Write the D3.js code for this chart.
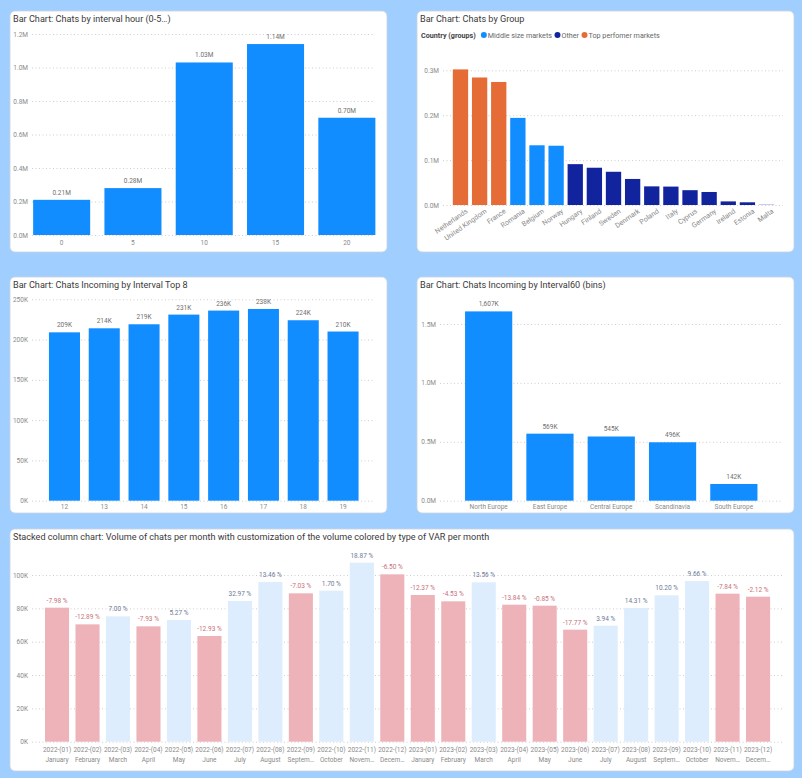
<!DOCTYPE html>
<html><head><meta charset="utf-8">
<script src="https://cdn.jsdelivr.net/npm/d3@7"></script>
<style>
body{margin:0;background:#A0CFFF;}
svg{display:block;font-family:Roboto,"Noto Sans",sans-serif;}
</style></head><body>
<svg id="c" width="802" height="778"></svg>
<script>
// ---------- DATA ----------
const hourCats = ["0","5","10","15","20"];
const hourVals = [210000, 280000, 1030000, 1140000, 700000];
const hourLabels = ["0.21M","0.28M","1.03M","1.14M","0.70M"];
const hourTicks = [0, 200000, 400000, 600000, 800000, 1000000, 1200000];

const countries = ["Netherlands","United Kingdom","France","Romania","Belgium","Norway","Hungary","Finland","Sweden","Denmark","Poland","Italy","Cyprus","Germany","Ireland","Estonia","Malta"];
const countryVals = [302000, 284000, 274000, 194000, 133000, 132000, 91000, 83000, 74000, 58000, 41500, 41000, 33000, 29000, 8000, 6000, 500];
const countryGroups = ["Top perfomer markets","Top perfomer markets","Top perfomer markets","Middle size markets","Middle size markets","Middle size markets","Other","Other","Other","Other","Other","Other","Other","Other","Other","Other","Other"];
const groupNames = ["Middle size markets","Other","Top perfomer markets"];
const groupColors = ["#118DFF","#12239E","#E66C37"];
const groupTicks = [0, 100000, 200000, 300000];

const intervalCats = ["12","13","14","15","16","17","18","19"];
const intervalVals = [209000, 214000, 219000, 231000, 236000, 238000, 224000, 210000];
const intervalLabels = ["209K","214K","219K","231K","236K","238K","224K","210K"];
const intervalTicks = [0, 50000, 100000, 150000, 200000, 250000];

const regionCats = ["North Europe","East Europe","Central Europe","Scandinavia","South Europe"];
const regionVals = [1607000, 569000, 545000, 496000, 142000];
const regionLabels = ["1,607K","569K","545K","496K","142K"];
const regionTicks = [0, 500000, 1000000, 1500000];

const monthKeys = ["2022-(01)","2022-(02)","2022-(03)","2022-(04)","2022-(05)","2022-(06)","2022-(07)","2022-(08)","2022-(09)","2022-(10)","2022-(11)","2022-(12)",
                   "2023-(01)","2023-(02)","2023-(03)","2023-(04)","2023-(05)","2023-(06)","2023-(07)","2023-(08)","2023-(09)","2023-(10)","2023-(11)","2023-(12)"];
const monthNames = ["January","February","March","April","May","June","July","August","Septem…","October","Novem…","Decem…",
                    "January","February","March","April","May","June","July","August","Septem…","October","Novem…","Decem…"];
const monthVals = [80400, 70400, 75200, 69200, 73000, 63400, 84400, 95800, 89000, 90600, 107400, 100400,
                   88000, 84200, 95600, 82200, 81600, 67200, 69600, 80200, 87800, 96400, 88800, 87000];
const monthVar = [-7.98, -12.89, 7.00, -7.93, 5.27, -12.93, 32.97, 13.46, -7.03, 1.70, 18.87, -6.50,
                  -12.37, -4.53, 13.56, -13.84, -0.85, -17.77, 3.94, 14.31, 10.20, 9.66, -7.84, -2.12];
const monthTicks = [0, 20000, 40000, 60000, 80000, 100000];

// ---------- HELPERS ----------
const svg = d3.select("#c");
const TITLE = "#3a3a3a", AXIS = "#8a8a8a", LABEL = "#6f6f6f";

function panel(x, y, w, h, title) {
  svg.append("rect").attr("x", x).attr("y", y).attr("width", w).attr("height", h)
    .attr("rx", 5).attr("fill", "#fff").attr("stroke", "#c9d3de").attr("stroke-width", 0.8);
  svg.append("text").attr("x", x + 3).attr("y", y + 11).attr("font-size", 9.1)
    .attr("font-weight", 400).attr("fill", TITLE).text(title);
}

function yAxis(yScale, ticks, fmt, axisX, gridEnd) {
  const g = svg.append("g").attr("transform", `translate(${axisX},0)`)
    .call(d3.axisLeft(yScale).tickValues(ticks).tickFormat(fmt)
      .tickSize(-(gridEnd - axisX)).tickPadding(4));
  g.select(".domain").remove();
  g.selectAll(".tick line").attr("stroke", "#c8c8c8").attr("stroke-dasharray", "1,2.5").attr("stroke-width", 0.9);
  g.selectAll(".tick text").attr("fill", AXIS).attr("font-size", 6.5).attr("font-family", "Roboto");
  return g;
}

function xAxis(xScale, yPos, pad) {
  const g = svg.append("g").attr("transform", `translate(0,${yPos})`)
    .call(d3.axisBottom(xScale).tickSize(0).tickPadding(pad));
  g.select(".domain").remove();
  g.selectAll(".tick text").attr("fill", AXIS).attr("font-size", 6.5).attr("font-family", "Roboto");
  return g;
}

function bars(cats, vals, x, y, color) {
  svg.append("g").selectAll("rect").data(cats).join("rect")
    .attr("x", d => x(d)).attr("width", x.bandwidth())
    .attr("y", (d, i) => y(vals[i])).attr("height", (d, i) => y(0) - y(vals[i]))
    .attr("fill", (d, i) => typeof color === "function" ? color(i) : color);
}

function valueLabels(cats, vals, labels, x, y, fill) {
  svg.append("g").selectAll("text").data(cats).join("text")
    .attr("x", d => x(d) + x.bandwidth() / 2)
    .attr("y", (d, i) => y(vals[i]) - 5)
    .attr("text-anchor", "middle").attr("font-size", 6.5)
    .attr("fill", (d, i) => typeof fill === "function" ? fill(i) : fill)
    .text((d, i) => labels[i]);
}

// ---------- CHART 1 ----------
panel(10, 11, 377, 241, "Bar Chart: Chats by interval hour (0-5…)");
{
  const y = d3.scaleLinear().domain([0, 1200000]).range([235, 34]);
  const x = d3.scaleBand().domain(hourCats).range([26, 382.5]).paddingInner(0.2).paddingOuter(0.1);
  yAxis(y, hourTicks, d => (d / 1e6).toFixed(1) + "M", 32, 375);
  bars(hourCats, hourVals, x, y, "#118DFF");
  valueLabels(hourCats, hourVals, hourLabels, x, y, LABEL);
  xAxis(x, 235, 5);
}

// ---------- CHART 2 ----------
panel(417, 11, 377, 241, "Bar Chart: Chats by Group");
{
  const color = d3.scaleOrdinal().domain(groupNames).range(groupColors);
  // legend
  const lg = svg.append("g").attr("font-size", 7.2);
  let lx = 421;
  const t0 = lg.append("text").attr("x", lx).attr("y", 37.5).attr("font-weight", "bold").attr("fill", "#444").text("Country (groups)");
  lx += t0.node().getComputedTextLength() + 5;
  groupNames.forEach(n => {
    lg.append("circle").attr("cx", lx + 3).attr("cy", 35).attr("r", 3).attr("fill", color(n));
    const t = lg.append("text").attr("x", lx + 7).attr("y", 37.5).attr("fill", "#666").text(n);
    lx += 7 + t.node().getComputedTextLength() + 2.5;
  });
  const y = d3.scaleLinear().domain([0, 300000]).range([205, 70.3]);
  const x = d3.scaleBand().domain(countries).range([449, 778]).paddingInner(0.2).paddingOuter(0.2);
  yAxis(y, groupTicks, d => (d / 1e6).toFixed(1) + "M", 443, 783);
  bars(countries, countryVals, x, y, i => color(countryGroups[i]));
  const g = xAxis(x, 205, 4);
  g.selectAll(".tick text").attr("font-size", 7).attr("text-anchor", "end")
    .attr("transform", "rotate(-35)").attr("dx", "0.3em").attr("dy", "0.9em");
}

// ---------- CHART 3 ----------
panel(10, 277, 377, 236, "Bar Chart: Chats Incoming by Interval Top 8");
{
  const y = d3.scaleLinear().domain([0, 250000]).range([500.7, 299.3]);
  const x = d3.scaleBand().domain(intervalCats).range([37, 370.5]).paddingInner(0.22).paddingOuter(0.3);
  yAxis(y, intervalTicks, d => (d / 1000) + "K", 32, 375);
  bars(intervalCats, intervalVals, x, y, "#118DFF");
  valueLabels(intervalCats, intervalVals, intervalLabels, x, y, LABEL);
  xAxis(x, 500.7, 4);
}

// ---------- CHART 4 ----------
panel(417, 277, 377, 236, "Bar Chart: Chats Incoming by Interval60 (bins)");
{
  const y = d3.scaleLinear().domain([0, 1500000]).range([500.7, 324]);
  const x = d3.scaleBand().domain(regionCats).range([458, 764.5]).paddingInner(0.23).paddingOuter(0.115);
  yAxis(y, regionTicks, d => (d / 1e6).toFixed(1) + "M", 440, 782);
  bars(regionCats, regionVals, x, y, "#118DFF");
  valueLabels(regionCats, regionVals, regionLabels, x, y, LABEL);
  xAxis(x, 500.7, 4);
}

// ---------- CHART 5 ----------
panel(10, 529, 784, 242, "Stacked column chart: Volume of chats per month with customization of the volume colored by type of VAR per month");
{
  const y = d3.scaleLinear().domain([0, 100000]).range([741.7, 575]);
  const x = d3.scaleBand().domain(monthKeys).range([41.8, 773.3]).paddingInner(0.21).paddingOuter(0.105);
  yAxis(y, monthTicks, d => (d / 1000) + "K", 32, 782);
  bars(monthKeys, monthVals, x, y, i => monthVar[i] < 0 ? "#EEB3B8" : "#DDEDFD");
  valueLabels(monthKeys, monthVals, monthVar.map(v => v.toFixed(2) + " %"), x, y,
    i => monthVar[i] < 0 ? "#C8707A" : "#6E7B98");
  const g = xAxis(x, 741.7, 6);
  g.selectAll(".tick text").each(function(d, i) {
    const t = d3.select(this);
    t.text(null);
    t.append("tspan").attr("x", 0).attr("dy", "0.71em").text(monthKeys[i]);
    t.append("tspan").attr("x", 0).attr("dy", "1.45em").text(monthNames[i]);
  });
  g.selectAll(".tick text").attr("dy", null);
}
</script>
</body></html>
